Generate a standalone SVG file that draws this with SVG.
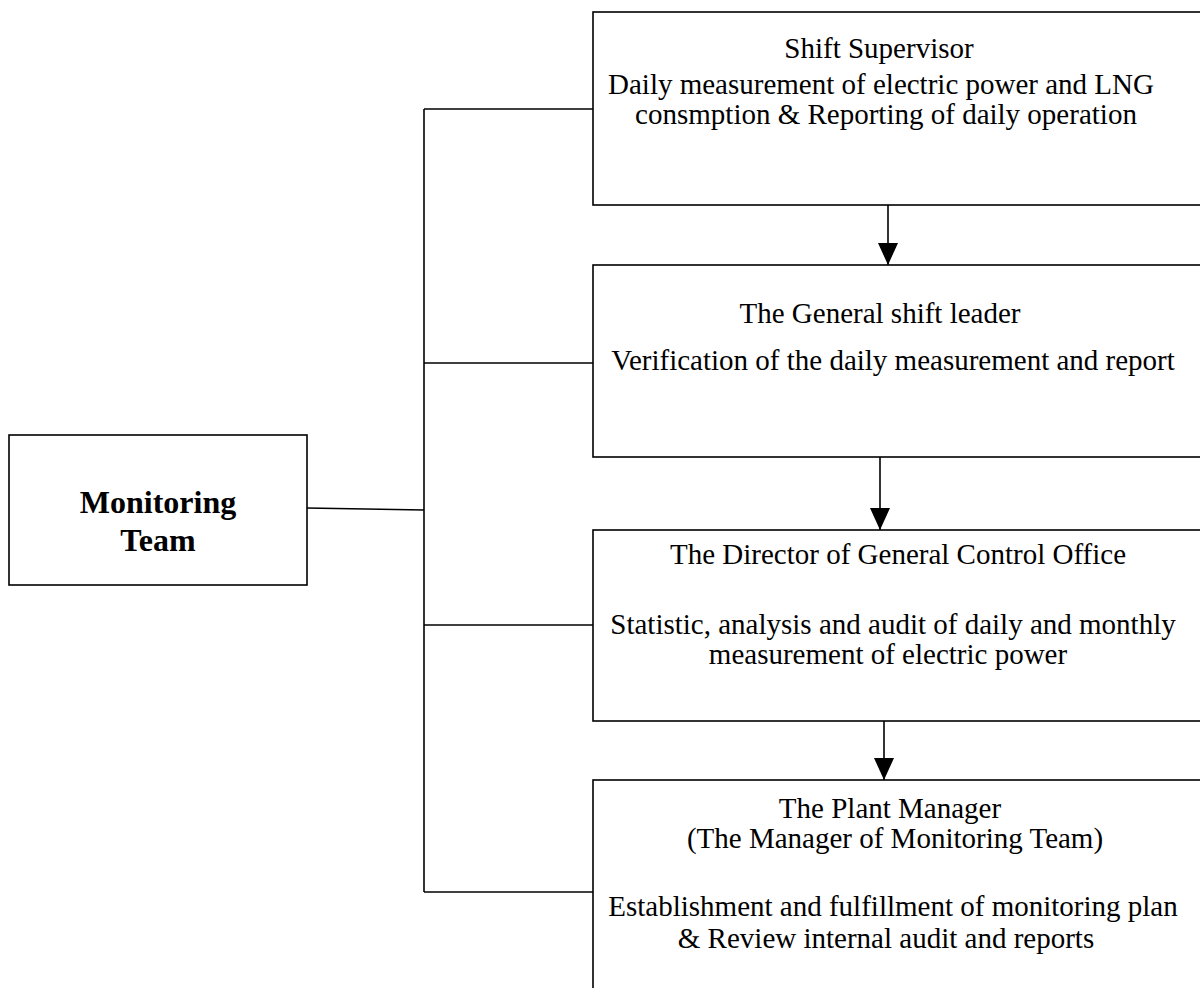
<svg xmlns="http://www.w3.org/2000/svg" width="1200" height="988" viewBox="0 0 1200 988">
<style>
.box{fill:#fff;stroke:#000;stroke-width:1.6}
.ln{stroke:#000;stroke-width:1.6;fill:none}
.t{font-family:"Liberation Serif","Times New Roman",serif;font-size:29px;fill:#000;text-anchor:middle}
.b{font-family:"Liberation Serif","Times New Roman",serif;font-size:32px;font-weight:bold;fill:#000;text-anchor:middle}
</style>
<defs>
<marker id="arr" viewBox="0 0 22 20" refX="22" refY="10" markerWidth="22" markerHeight="20" markerUnits="userSpaceOnUse" orient="auto">
<path d="M0,0 L22,10 L0,20 z" fill="#000"/>
</marker>
</defs>
<rect width="1200" height="988" fill="#fff"/>
<g id="connectors">
<line class="ln" x1="424" y1="109" x2="424" y2="892"/>
<line class="ln" x1="424" y1="109" x2="593" y2="109"/>
<line class="ln" x1="424" y1="363" x2="593" y2="363"/>
<line class="ln" x1="424" y1="625" x2="593" y2="625"/>
<line class="ln" x1="424" y1="892" x2="593" y2="892"/>
<line class="ln" x1="307" y1="508" x2="424" y2="510"/>
<line class="ln" x1="888" y1="205" x2="888" y2="265" marker-end="url(#arr)"/>
<line class="ln" x1="880" y1="457" x2="880" y2="530" marker-end="url(#arr)"/>
<line class="ln" x1="884" y1="721" x2="884" y2="780" marker-end="url(#arr)"/>
</g>
<g id="monitoring-team">
<rect class="box" x="9" y="435" width="298" height="150"/>
<text class="b" x="158" y="513">Monitoring</text>
<text class="b" x="158" y="551">Team</text>
</g>
<g id="shift-supervisor">
<rect class="box" x="593" y="12" width="640" height="193"/>
<text class="t" x="879" y="58">Shift Supervisor</text>
<text class="t" x="881" y="94">Daily measurement of electric power and LNG</text>
<text class="t" x="886" y="124">consmption &amp; Reporting of daily operation</text>
</g>
<g id="general-shift-leader">
<rect class="box" x="593" y="265" width="640" height="192"/>
<text class="t" x="880" y="323">The General shift leader</text>
<text class="t" x="893" y="370">Verification of the daily measurement and report</text>
</g>
<g id="director">
<rect class="box" x="593" y="530" width="640" height="191"/>
<text class="t" x="898" y="564">The Director of General Control Office</text>
<text class="t" x="893" y="634">Statistic, analysis and audit of daily and monthly</text>
<text class="t" x="888" y="664">measurement of electric power</text>
</g>
<g id="plant-manager">
<rect class="box" x="593" y="780" width="640" height="230"/>
<text class="t" x="890" y="818">The Plant Manager</text>
<text class="t" x="895" y="848">(The Manager of Monitoring Team)</text>
<text class="t" x="893" y="916">Establishment and fulfillment of monitoring plan</text>
<text class="t" x="886" y="948">&amp; Review internal audit and reports</text>
</g>
</svg>
